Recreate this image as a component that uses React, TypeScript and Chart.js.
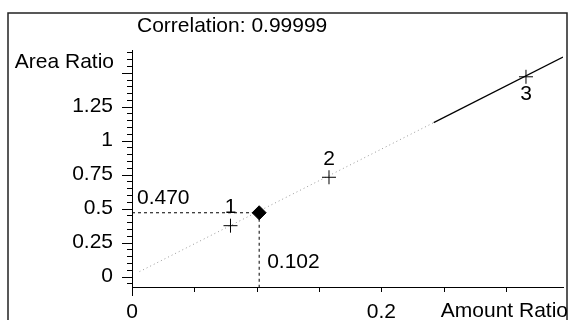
import React, { useEffect, useRef } from "react";
import { Chart, registerables } from "chart.js";

Chart.register(...registerables);

// Calibration standards (Amount Ratio vs Area Ratio)
const standardX = [0.079, 0.158, 0.316];
const standardY = [0.375, 0.731, 1.47];
const standardLabels = ["1", "2", "3"];

// Unknown sample
const unknownX = [0.102];
const unknownY = [0.47];
const unknownXText = "0.102";
const unknownYText = "0.470";

// Calibration line (faint part, then solid part)
const fitFaintX = [0.006, 0.242];
const fitFaintY = [0.037, 1.133];
const fitSolidX = [0.242, 0.3457];
const fitSolidY = [1.133, 1.615];

// Axes
const xMin = 0;
const xMax = 0.3457;
const yMin = -0.076;
const yMax = 1.667;
const xTickLabels = ["0", "0.2"];
const yTickLabels = ["0", "0.25", "0.5", "0.75", "1", "1.25"];

const titleText = "Correlation: 0.99999";
const yAxisName = "Area Ratio";
const xAxisName = "Amount Ratio";

const FONT = "Liberation Sans, Arial, sans-serif";
const FS = 21;

function pts(xs: number[], ys: number[]) {
  return xs.map((x, i) => ({ x, y: ys[i] }));
}

function labelFor(list: string[], v: number) {
  const m = list.find((t) => Math.abs(parseFloat(t) - v) < 1e-6);
  return m === undefined ? "" : m;
}

const decor = {
  id: "decor",
  afterDraw(chart: any) {
    const { ctx, chartArea: a } = chart;
    const x = chart.scales.x;
    const y = chart.scales.y;
    ctx.save();
    // outer frame
    ctx.strokeStyle = "#222";
    ctx.lineWidth = 1.5;
    ctx.beginPath();
    ctx.moveTo(8, 330);
    ctx.lineTo(8, 13);
    ctx.lineTo(567, 13);
    ctx.lineTo(567, 330);
    ctx.stroke();

    // y axis extension below x axis
    ctx.strokeStyle = "#000";
    ctx.lineWidth = 1;
    ctx.beginPath();
    ctx.moveTo(a.left + 0.5, a.bottom);
    ctx.lineTo(a.left + 0.5, a.bottom + 9);
    ctx.stroke();

    // y tick marks
    for (let i = -1; i <= 33; i++) {
      const v = i * 0.05;
      const py = Math.round(y.getPixelForValue(v)) + 0.5;
      if (py < a.top - 1 || py > a.bottom) continue;
      const len = i % 5 === 0 ? 10 : 5;
      ctx.beginPath();
      ctx.moveTo(a.left - len, py);
      ctx.lineTo(a.left, py);
      ctx.stroke();
    }
    // x tick marks
    for (let i = 1; i <= 6; i++) {
      const v = i * 0.05;
      const px = Math.round(x.getPixelForValue(v)) + 0.5;
      if (px > a.right) continue;
      ctx.beginPath();
      ctx.moveTo(px, a.bottom);
      ctx.lineTo(px, a.bottom + 5);
      ctx.stroke();
    }

    ctx.fillStyle = "#000";
    ctx.font = `${FS}px ${FONT}`;
    ctx.textBaseline = "middle";

    // title
    ctx.textAlign = "left";
    ctx.fillText(titleText, 137, 26);
    // axis names
    ctx.textAlign = "right";
    ctx.fillText(yAxisName, 114, 62);
    ctx.fillText(xAxisName, 568, 311);

    // standard labels
    const meta = chart.getDatasetMeta(0);
    ctx.textAlign = "center";
    meta.data.forEach((el: any, i: number) => {
      const dy = i === 2 ? 17 : -18;
      ctx.fillText(standardLabels[i], el.x, el.y + dy);
    });

    // unknown value labels
    const ux = x.getPixelForValue(unknownX[0]);
    const uy = y.getPixelForValue(unknownY[0]);
    ctx.textAlign = "left";
    ctx.fillText(unknownYText, a.left + 5, uy - 15);
    ctx.fillText(unknownXText, ux + 8, 262);
    ctx.restore();
  },
};

export default function App() {
  const ref = useRef<HTMLCanvasElement | null>(null);
  useEffect(() => {
    if (!ref.current) return;
    const chart = new Chart(ref.current, {
      type: "scatter",
      data: {
        datasets: [
          {
            data: pts(standardX, standardY),
            pointStyle: "cross",
            pointRadius: 7,
            borderColor: "#000",
            backgroundColor: "#000",
            borderWidth: 1,
            showLine: false,
          },
          {
            data: pts(unknownX, unknownY),
            pointStyle: "rectRot",
            pointRadius: 7,
            borderColor: "#000",
            backgroundColor: "#000",
            borderWidth: 1,
            showLine: false,
          },
          {
            data: [
              { x: xMin, y: unknownY[0] },
              { x: unknownX[0], y: unknownY[0] },
            ],
            showLine: true,
            pointRadius: 0,
            borderColor: "#000",
            borderWidth: 1,
            borderDash: [3, 3],
          },
          {
            data: [
              { x: unknownX[0], y: unknownY[0] },
              { x: unknownX[0], y: yMin },
            ],
            showLine: true,
            pointRadius: 0,
            borderColor: "#000",
            borderWidth: 1,
            borderDash: [3, 3],
          },
          {
            data: pts(fitFaintX, fitFaintY),
            showLine: true,
            pointRadius: 0,
            borderColor: "#999",
            borderWidth: 1,
            borderDash: [1, 3],
          },
          {
            data: pts(fitSolidX, fitSolidY),
            showLine: true,
            pointRadius: 0,
            borderColor: "#000",
            borderWidth: 1.2,
          },
        ],
      },
      options: {
        responsive: false,
        animation: false,
        devicePixelRatio: 1,
        layout: { padding: { top: 50, right: 2, left: 0, bottom: 0 } },
        plugins: {
          legend: { display: false },
          tooltip: { enabled: false },
        },
        scales: {
          x: {
            type: "linear",
            min: xMin,
            max: xMax,
            afterFit(s: any) {
              s.height = 33;
            },
            grid: { display: true, drawOnChartArea: false, drawTicks: false },
            border: { display: true, color: "#000", width: 1 },
            ticks: {
              stepSize: 0.05,
              includeBounds: false,
              autoSkip: false,
              maxRotation: 0,
              padding: 13,
              color: "#000",
              font: { family: FONT, size: FS },
              callback: (v: any) => labelFor(xTickLabels, Number(v)),
            },
          },
          y: {
            type: "linear",
            min: yMin,
            max: yMax,
            afterFit(s: any) {
              s.width = 132;
            },
            grid: { display: true, drawOnChartArea: false, drawTicks: false },
            border: { display: true, color: "#000", width: 1 },
            ticks: {
              stepSize: 0.25,
              includeBounds: false,
              autoSkip: false,
              padding: 19,
              color: "#000",
              font: { family: FONT, size: FS },
              callback: (v: any) => labelFor(yTickLabels, Number(v)),
            },
          },
        },
      },
      plugins: [decor],
    } as any);
    return () => chart.destroy();
  }, []);
  return (
    <div style={{ position: "fixed", left: 0, top: 0, width: 571, height: 320, background: "#fff" }}>
      <canvas ref={ref} width={571} height={320} style={{ display: "block" }} />
    </div>
  );
}
